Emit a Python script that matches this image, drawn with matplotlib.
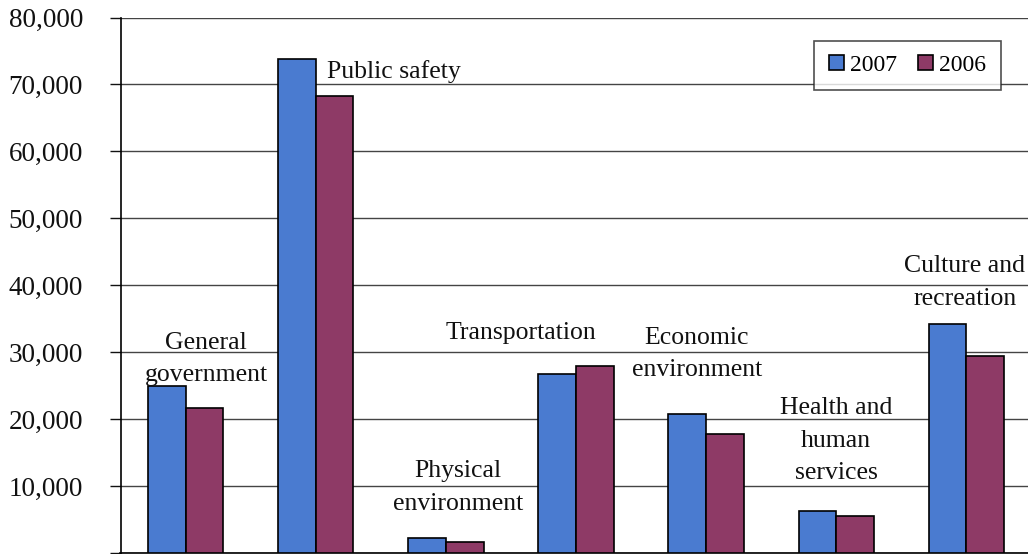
import numpy as np
import matplotlib.pyplot as plt
from matplotlib.ticker import FuncFormatter

# data
categories = ["General\ngovernment", "Public safety", "Physical\nenvironment",
              "Transportation", "Economic\nenvironment",
              "Health and\nhuman\nservices", "Culture and\nrecreation"]
values_2007 = [24900, 73800, 2300, 26700, 20700, 6200, 34200]
values_2006 = [21600, 68300, 1700, 27900, 17800, 5600, 29400]
y_ticks = [0, 10000, 20000, 30000, 40000, 50000, 60000, 70000, 80000]

# where each category label sits (data coords, alignment)
label_pos = [(0.157, 29000, "center"), (1.087, 72000, "left"),
             (2.093, 9800, "center"), (2.577, 32800, "center"),
             (3.929, 29700, "center"), (5.0, 16800, "center"),
             (5.987, 40400, "center")]

plt.rcParams["font.family"] = ["Liberation Serif", "DejaVu Serif"]

fig = plt.figure(figsize=(10.28, 5.54), dpi=100)
ax = fig.add_axes([120.5 / 1028, 1 / 554, 911 / 1028, (554 - 18.5) / 554])

x = np.arange(len(categories))
w = 0.29
ax.bar(x - w / 2, values_2007, w, color="#4a7bd0", edgecolor="black",
       linewidth=1.2, label="2007", zorder=3)
ax.bar(x + w / 2, values_2006, w, color="#8e3a66", edgecolor="black",
       linewidth=1.2, label="2006", zorder=3)

for (lx, ly, ha), name in zip(label_pos, categories):
    ax.text(lx, ly, name, ha=ha, va="center", fontsize=18.5,
            linespacing=1.6, color="#111111", zorder=4)

ax.set_xlim(-0.5, len(categories) - 0.5)
ax.set_ylim(0, 80000)
ax.set_yticks(y_ticks)
# the zero label falls below the bottom edge in the original
ax.yaxis.set_major_formatter(FuncFormatter(lambda v, p: f"{int(v):,}" if v else ""))
ax.tick_params(axis="y", labelsize=19.5, length=8, width=1, pad=19,
               colors="#111111")
ax.set_xticks([])

ax.grid(axis="y", color="#444444", linewidth=1, zorder=0)
ax.spines["top"].set_visible(False)
ax.spines["right"].set_visible(False)
ax.spines["left"].set_linewidth(1.2)
ax.spines["bottom"].set_linewidth(1.2)

leg = ax.legend(loc="upper right", bbox_to_anchor=(1 - 31 / 911, 1 - 23 / 535),
                ncol=2, fontsize=17, frameon=True, fancybox=False,
                handlelength=0.65, handleheight=0.65, handletextpad=0.25,
                columnspacing=0.9, borderpad=0.6, borderaxespad=0)
leg.get_frame().set_edgecolor("#222222")
leg.get_frame().set_linewidth(1.2)
leg.set_zorder(5)

fig.savefig("out.png", dpi=100)
